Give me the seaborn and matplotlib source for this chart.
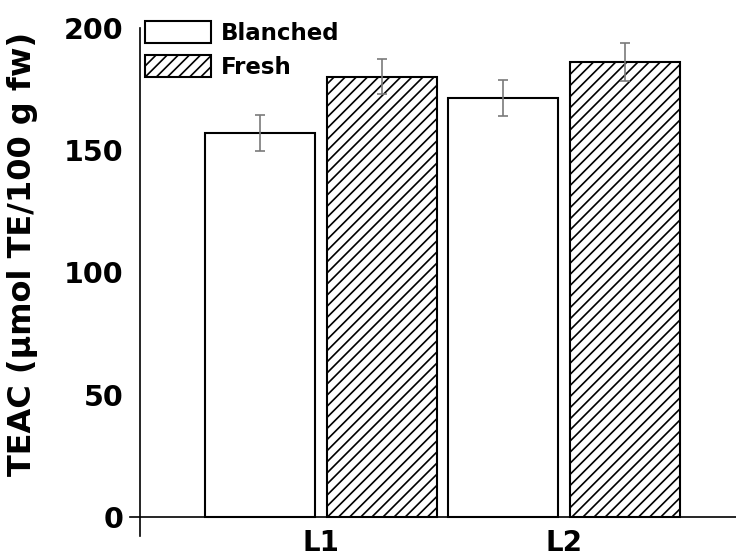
"""TEAC of blanched vs fresh samples for two lines (L1, L2), bar chart with SD error bars."""

import matplotlib

matplotlib.use("Agg")
import matplotlib.pyplot as plt
import pandas as pd
import seaborn as sns
from matplotlib.patches import Patch
from matplotlib.ticker import FixedLocator, MultipleLocator

varieties = ["L1", "L2"]
treatments = ["Blanched", "Fresh"]
blanched_teac = [156.9, 171.4]
blanched_sd = [7.4, 7.4]
fresh_teac = [180.0, 186.1]
fresh_sd = [7.2, 7.6]

sns.set_theme(style="white")
plt.rcParams["font.family"] = ["DejaVu Sans"]
plt.rcParams["font.weight"] = "bold"
plt.rcParams["text.color"] = "black"
plt.rcParams["axes.labelcolor"] = "black"
plt.rcParams["xtick.color"] = "black"
plt.rcParams["ytick.color"] = "black"
plt.rcParams["hatch.linewidth"] = 1.2
plt.rcParams["hatch.color"] = "black"

df = pd.DataFrame({
    "variety": varieties * 2,
    "treatment": [treatments[0]] * 2 + [treatments[1]] * 2,
    "teac": blanched_teac + fresh_teac,
})
sd_by_treatment = {"Blanched": blanched_sd, "Fresh": fresh_sd}
hatch_by_treatment = {"Blanched": "", "Fresh": "///"}

fig = plt.figure(figsize=(7.36, 5.56), dpi=100)
ax = fig.add_axes([130 / 736, 1 - 536 / 556, 1 - 130 / 736, (536 - 28) / 556])

sns.barplot(
    data=df, x="variety", y="teac", hue="treatment", order=varieties, hue_order=treatments,
    palette={"Blanched": "white", "Fresh": "white"}, edgecolor="black", linewidth=1.5,
    width=1.0, gap=0.095, errorbar=None, legend=False, ax=ax,
)

for container, name in zip(ax.containers, treatments):
    xs, ys = [], []
    for bar in container:
        bar.set_hatch(hatch_by_treatment[name])
        bar.set_facecolor("white")
        bar.set_edgecolor("black")
        xs.append(bar.get_x() + bar.get_width() / 2)
        ys.append(bar.get_height())
    ax.errorbar(xs, ys, yerr=sd_by_treatment[name], fmt="none", ecolor="#7a7a7a",
                elinewidth=1.2, capsize=3.8, capthick=1.2, zorder=5)

ax.set_xlim(-0.786, 1.708)
ax.set_ylim(-7.8, 200)

for side in ["top", "right"]:
    ax.spines[side].set_visible(False)
ax.spines["left"].set_position(("data", -0.745))
ax.spines["bottom"].set_position(("data", 0))
for side in ["left", "bottom"]:
    ax.spines[side].set_linewidth(1.2)
    ax.spines[side].set_color("black")

ax.yaxis.set_major_locator(MultipleLocator(50))
ax.yaxis.set_minor_locator(MultipleLocator(25))
ax.tick_params(axis="y", which="major", direction="out", length=7, width=1.2, pad=5, labelsize=20.5)
ax.tick_params(axis="y", which="minor", direction="out", length=4.3, width=1.2)
for lbl in ax.get_yticklabels():
    lbl.set_fontweight("bold")

ax.xaxis.set_minor_locator(FixedLocator([0.5]))
ax.tick_params(axis="x", which="major", length=0, pad=9, labelsize=20)
ax.tick_params(axis="x", which="minor", direction="out", length=13.7, width=1.2)
for lbl in ax.get_xticklabels():
    lbl.set_fontweight("bold")

ax.set_xlabel("")
ax.set_ylabel("")
fig.text(23 / 736, 1 - 254 / 556, "TEAC (µmol TE/100 g fw)", rotation=90, ha="center", va="center",
         fontsize=23, fontweight="bold")

handles = [Patch(facecolor="white", edgecolor="black", linewidth=1.5, hatch=hatch_by_treatment[t])
           for t in treatments]
ax.legend(handles, treatments, loc="upper left", bbox_to_anchor=(145 / 736, 1 - 21 / 556),
          bbox_transform=fig.transFigure, frameon=False, borderpad=0, borderaxespad=0,
          handlelength=2.9, handleheight=1.13, labelspacing=0.43, handletextpad=0.43,
          prop={"size": 16.5, "weight": "bold"})

fig.savefig("out.png", dpi=100)
